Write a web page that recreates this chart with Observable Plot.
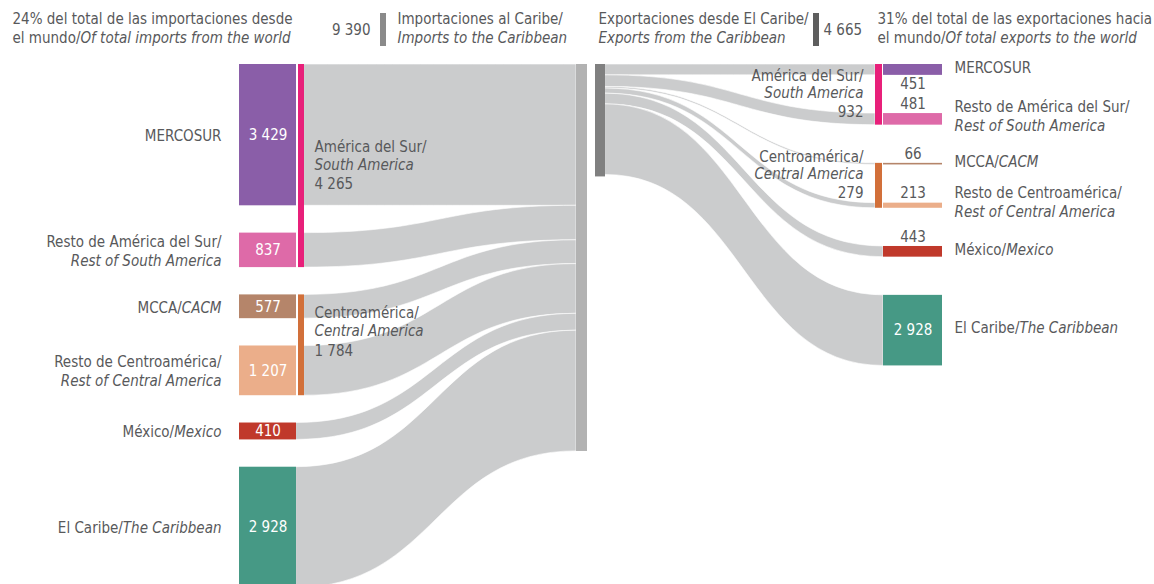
<!DOCTYPE html>
<html><head><meta charset="utf-8">
<script src="https://cdn.jsdelivr.net/npm/d3@7"></script>
<script src="https://cdn.jsdelivr.net/npm/@observablehq/plot@0.6"></script>
<style>
html,body{margin:0;padding:0;background:#fff;}
#chart svg{display:block;}
</style></head><body><div id="chart"></div>
<script>
// ---------------- DATA ----------------
const labelEs = ["MERCOSUR", "Resto de América del Sur/", "MCCA/", "Resto de Centroamérica/", "México/", "El Caribe/"];
const labelEn = ["", "Rest of South America", "CACM", "Rest of Central America", "Mexico", "The Caribbean"];
const labelTwoLines = [false, true, false, true, false, false];
const importValues = [3429, 837, 577, 1207, 410, 2928];
const exportValues = [451, 481, 66, 213, 443, 2928];
const regionGroup = [0, 0, 1, 1, null, null];
const groupEs = ["América del Sur/", "Centroamérica/"];
const groupEn = ["South America", "Central America"];
const importGroupTotals = [4265, 1784];
const exportGroupTotals = [932, 279];
const importTotal = 9390;
const exportTotal = 4665;
const importShareText = ["24% del total de las importaciones desde", "el mundo/", "Of total imports from the world"];
const exportShareText = ["31% del total de las exportaciones hacia", "el mundo/", "Of total exports to the world"];
const importTitle = ["Importaciones al Caribe/", "Imports to the Caribbean"];
const exportTitle = ["Exportaciones desde El Caribe/", "Exports from the Caribbean"];

// ---------------- STYLE / LAYOUT ----------------
const W = 1154, H = 584;
const FONT = '"Liberation Sans Narrow","Arial Narrow","DejaVu Sans Condensed",sans-serif';
const FS = 15;
const TEXT = "#58595b";
const nodeColors = ["#8a5ea8", "#de6aa8", "#b5856a", "#ebae8a", "#c0392b", "#469985"];
const groupColors = ["#e8207a", "#d2703a"];
const FLOW = "#cbcccd";
const IMPORT_BAR = "#b2b2b2", EXPORT_BAR = "#808080";
const IMPORT_KEY = "#8a8a8a", EXPORT_KEY = "#5e5e5e";

const L = {k: 0.04121, top: 64, gap: 27.3, nodeX: [239, 296], groupX: [298, 304], barX: [576, 587],
           labelX: 221, groupLabelX: 314, groupShift: [0, -13]};
const R = {k: 0.0241, top: 64, gap: 38.2, barX: [595, 605], groupX: [875, 882], nodeX: [883, 942],
           labelX: 954, groupLabelX: 863, groupShift: [0, -10]};

const fmt = d3.formatLocale({decimal: ",", thousands: " ", grouping: [3], currency: ["", ""]}).format(",d");
const ctx = document.createElement("canvas").getContext("2d");
function tw(s, italic) { ctx.font = `${italic ? "italic " : ""}${FS}px ${FONT}`; return ctx.measureText(s).width; }

function stackGaps(values, k, top, gap) {
  let y = top;
  return values.map(v => { const y1 = y, y2 = y + v * k; y = y2 + gap; return {y1, y2, c: (y1 + y2) / 2}; });
}
function stackFlat(values, k, top) {
  let y = top;
  return values.map(v => { const y1 = y, y2 = y + v * k; y = y2; return {y1, y2}; });
}

const lNodes = stackGaps(importValues, L.k, L.top, L.gap);
const lBar = stackFlat(importValues, L.k, L.top);
const rNodes = stackGaps(exportValues, R.k, R.top, R.gap);
const rBar = stackFlat(exportValues, R.k, R.top);

function groupSpan(nodes, g) {
  const idx = regionGroup.map((gg, i) => gg === g ? i : -1).filter(i => i >= 0);
  return {y1: nodes[idx[0]].y1, y2: nodes[idx[idx.length - 1]].y2};
}

// rects
const rects = [];
importValues.forEach((v, i) => rects.push({x1: L.nodeX[0], x2: L.nodeX[1], y1: lNodes[i].y1, y2: lNodes[i].y2, fill: nodeColors[i]}));
exportValues.forEach((v, i) => rects.push({x1: R.nodeX[0], x2: R.nodeX[1], y1: rNodes[i].y1, y2: rNodes[i].y2, fill: nodeColors[i]}));
groupEs.forEach((g, j) => {
  const a = groupSpan(lNodes, j), b = groupSpan(rNodes, j);
  rects.push({x1: L.groupX[0], x2: L.groupX[1], y1: a.y1, y2: a.y2, fill: groupColors[j]});
  rects.push({x1: R.groupX[0], x2: R.groupX[1], y1: b.y1, y2: b.y2, fill: groupColors[j]});
});
rects.push({x1: L.barX[0], x2: L.barX[1], y1: L.top, y2: L.top + importTotal * L.k, fill: IMPORT_BAR});
rects.push({x1: R.barX[0], x2: R.barX[1], y1: R.top, y2: R.top + exportTotal * R.k, fill: EXPORT_BAR});
// header keys
rects.push({x1: 380, x2: 386, y1: 13, y2: 46, fill: IMPORT_KEY});
rects.push({x1: 813, x2: 819, y1: 13, y2: 46, fill: EXPORT_KEY});

// flows
const flows = [];
importValues.forEach((v, i) => {
  const x0 = regionGroup[i] !== null ? L.groupX[1] : L.nodeX[1];
  flows.push({id: "L" + i, x: x0, top: lNodes[i].y1, bot: lNodes[i].y2});
  flows.push({id: "L" + i, x: L.barX[0], top: lBar[i].y1, bot: lBar[i].y2});
});
exportValues.forEach((v, i) => {
  const x1 = regionGroup[i] !== null ? R.groupX[0] : R.nodeX[0];
  flows.push({id: "R" + i, x: R.barX[1], top: rBar[i].y1, bot: rBar[i].y2});
  flows.push({id: "R" + i, x: x1, top: rNodes[i].y1, bot: rNodes[i].y2});
});

// texts
const texts = [];
function put(x, y, text, italic, anchor, fill = TEXT) { texts.push({x, y, text, italic, anchor, fill}); }
function mixed(x, y, es, en, anchor) {
  if (anchor === "start") {
    put(x, y, es, false, anchor);
    if (en) put(x + tw(es, false), y, en, true, anchor);
  } else {
    if (en) { put(x, y, en, true, anchor); put(x - tw(en, true), y, es, false, anchor); }
    else put(x, y, es, false, anchor);
  }
}
// left labels
labelEs.forEach((es, i) => {
  const c = lNodes[i].c + 1;
  if (labelTwoLines[i]) { put(L.labelX, c - 9.5, es, false, "end"); put(L.labelX, c + 9.5, labelEn[i], true, "end"); }
  else mixed(L.labelX, c, es, labelEn[i], "end");
  put((L.nodeX[0] + L.nodeX[1]) / 2, lNodes[i].c, fmt(importValues[i]), false, "middle", "#ffffff");
});
// right labels
labelEs.forEach((es, i) => {
  const c = rNodes[i].c;
  if (labelTwoLines[i]) { put(R.labelX, c - 12.5, es, false, "start"); put(R.labelX, c + 6.5, labelEn[i], true, "start"); }
  else mixed(R.labelX, c - 2, es, labelEn[i], "start");
  const mid = (R.nodeX[0] + R.nodeX[1]) / 2;
  const h = rNodes[i].y2 - rNodes[i].y1;
  if (h > 40) put(mid, c, fmt(exportValues[i]), false, "middle", "#ffffff");
  else if (i === 0) put(mid, rNodes[i].y2 + 9, fmt(exportValues[i]), false, "middle");
  else put(mid, rNodes[i].y1 - 9.5, fmt(exportValues[i]), false, "middle");
});
// group labels
groupEs.forEach((g, j) => {
  const a = groupSpan(lNodes, j), b = groupSpan(rNodes, j);
  const ca = (a.y1 + a.y2) / 2 + L.groupShift[j];
  put(L.groupLabelX, ca - 19, g, false, "start");
  put(L.groupLabelX, ca - 1, groupEn[j], true, "start");
  put(L.groupLabelX, ca + 18.5, fmt(importGroupTotals[j]), false, "start");
  const cb = (b.y1 + b.y2) / 2 + R.groupShift[j];
  put(R.groupLabelX, cb - 19, g, false, "end");
  put(R.groupLabelX, cb - 1.5, groupEn[j], true, "end");
  put(R.groupLabelX, cb + 17, fmt(exportGroupTotals[j]), false, "end");
});
// header
put(12, 19, importShareText[0], false, "start");
mixed(12, 38, importShareText[1], importShareText[2], "start");
put(370, 30, fmt(importTotal), false, "end");
put(397, 19, importTitle[0], false, "start");
put(397, 38, importTitle[1], true, "start");
put(598, 19, exportTitle[0], false, "start");
put(598, 38, exportTitle[1], true, "start");
put(823, 30, fmt(exportTotal), false, "start");
put(877, 19, exportShareText[0], false, "start");
mixed(877, 38, exportShareText[1], exportShareText[2], "start");

const textMarks = [];
for (const anchor of ["start", "middle", "end"]) for (const italic of [false, true]) {
  textMarks.push(Plot.text(texts, {filter: d => d.anchor === anchor && d.italic === italic,
    x: "x", y: "y", text: "text", fill: "fill", textAnchor: anchor, fontSize: FS,
    fontStyle: italic ? "italic" : "normal", lineAnchor: "middle"}));
}

const chart = Plot.plot({
  width: W, height: H, margin: 0,
  x: {domain: [0, W], range: [0, W], axis: null},
  y: {domain: [0, H], range: [0, H], axis: null},
  color: {type: "identity"},
  style: {fontFamily: FONT, background: "#ffffff"},
  marks: [
    Plot.area(flows, {x1: "x", y1: "top", y2: "bot", z: "id", curve: "bump-x", fill: FLOW, stroke: "#ffffff", strokeWidth: 0.6}),
    Plot.rect(rects, {x1: "x1", x2: "x2", y1: "y1", y2: "y2", fill: "fill"}),
    ...textMarks
  ]
});
document.getElementById("chart").append(chart);
</script>
</body></html>
